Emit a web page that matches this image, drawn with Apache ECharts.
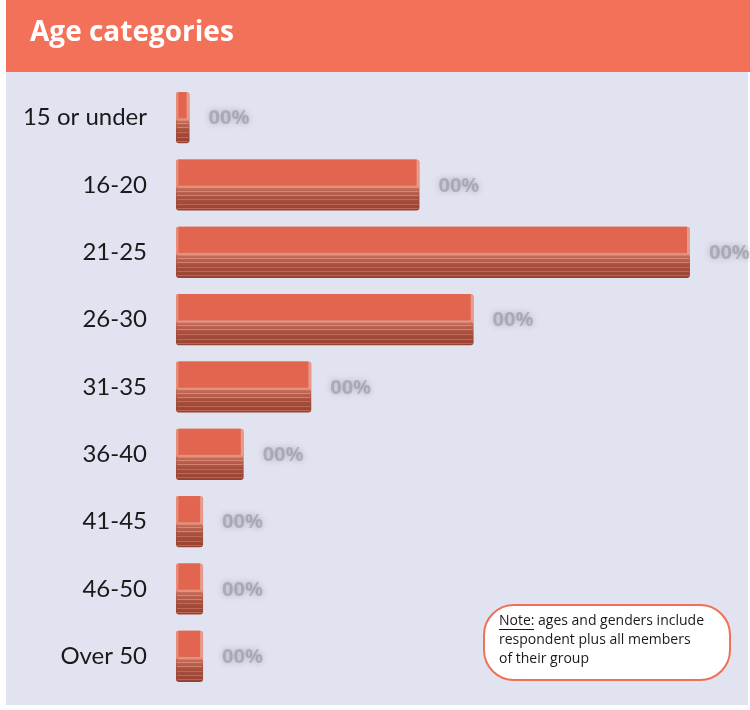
<!DOCTYPE html>
<html>
<head>
<meta charset="utf-8">
<script src="https://cdn.jsdelivr.net/npm/echarts@6/dist/echarts.min.js"></script>
<style>
html,body{margin:0;padding:0;background:#ffffff;}
#chart{width:750px;height:710px;}
</style>
</head>
<body>
<div id="chart"></div>
<script>
const titleText = 'Age categories';
const categories = ['15 or under', '16-20', '21-25', '26-30', '31-35', '36-40', '41-45', '46-50', 'Over 50'];
const percentValues = [1, 18, 38, 22, 10, 5, 2, 2, 2];
const valueLabels = ['00%', '00%', '00%', '00%', '00%', '00%', '00%', '00%', '00%'];
const noteLines = ['ages and genders include', 'respondent plus all members', 'of their group'];

const chart = echarts.init(document.getElementById('chart'), null, {renderer: 'canvas'});

function renderBar(params, api) {
  const idx = api.value(1);
  const val = api.value(0);
  const start = api.coord([0, idx]);
  const end = api.coord([val, idx]);
  const band = api.size([0, 1])[1];
  const h = band * 0.76;
  const x0 = start[0];
  const w = Math.max(end[0] - start[0], 6);
  const y0 = start[1] - h / 2;
  const faceH = h * 0.51;
  const children = [];
  children.push({
    type: 'rect',
    shape: {x: x0, y: y0, width: w, height: h, r: 3},
    style: {
      fill: new echarts.graphic.LinearGradient(0, 0, 0, 1, [
        {offset: 0, color: '#E8846F'},
        {offset: 0.5, color: '#D87866'},
        {offset: 0.58, color: '#C26A58'},
        {offset: 0.75, color: '#A94F3E'},
        {offset: 1, color: '#964231'}
      ])
    }
  });
  const stripes = [0.61, 0.69, 0.78, 0.87, 0.95];
  stripes.forEach(function (f, i) {
    const yy = Math.round(y0 + h * f) + 0.5;
    children.push({
      type: 'line',
      shape: {x1: x0 + 1, y1: yy, x2: x0 + w - 1, y2: yy},
      style: {stroke: i < 2 ? 'rgba(240,165,148,0.55)' : 'rgba(215,130,112,0.55)', lineWidth: 1}
    });
  });
  children.push({
    type: 'rect',
    shape: {x: x0 + 2, y: y0 + faceH, width: w - 4, height: h * 0.05},
    style: {fill: 'rgba(232,150,132,0.85)'}
  });
  children.push({
    type: 'rect',
    shape: {x: x0, y: y0, width: 2.5, height: faceH + 2, r: [2, 0, 0, 0]},
    style: {fill: '#E98B79'}
  });
  children.push({
    type: 'polygon',
    shape: {points: [[x0 + w - 3, y0], [x0 + w, y0 + 2], [x0 + w, y0 + faceH + 4], [x0 + w - 3, y0 + faceH]]},
    style: {fill: '#E99A8A'}
  });
  children.push({
    type: 'rect',
    shape: {x: x0 + 2.5, y: y0, width: Math.max(w - 5.5, 1), height: faceH},
    style: {fill: '#E2664F'}
  });
  children.push({
    type: 'text',
    style: {
      text: valueLabels[params.dataIndex],
      x: x0 + w + 19,
      y: start[1] + 1,
      verticalAlign: 'middle',
      align: 'left',
      font: 'bold 20px "Open Sans", sans-serif',
      fill: 'rgba(125,125,140,0.42)',
      textShadowColor: 'rgba(100,100,115,1)',
      textShadowBlur: 6
    }
  });
  return {type: 'group', children: children};
}

const barData = percentValues.map(function (v, i) { return [v, i]; });

const option = {
  animation: false,
  backgroundColor: '#ffffff',
  graphic: [
    {type: 'rect', z: -10, shape: {x: 6, y: 0, width: 742, height: 705}, style: {fill: '#E2E3F0'}},
    {type: 'rect', z: -5, shape: {x: 6, y: 0, width: 744, height: 72}, style: {fill: '#F37158'}},
    {type: 'text', z: 5, style: {text: titleText, x: 30, y: 33, verticalAlign: 'middle', font: 'bold 28px "Open Sans", sans-serif', fill: '#ffffff'}},
    {type: 'rect', z: 5, shape: {x: 484, y: 605, width: 246, height: 75, r: 30}, style: {fill: '#ffffff', stroke: '#F07058', lineWidth: 2}},
    {type: 'text', z: 6, style: {text: 'Note:', x: 499, y: 621, verticalAlign: 'middle', font: '14px "Open Sans", sans-serif', fill: '#1a1a1a'}},
    {type: 'line', z: 6, shape: {x1: 499, y1: 629.5, x2: 534, y2: 629.5}, style: {stroke: '#1a1a1a', lineWidth: 1}},
    {type: 'text', z: 6, style: {text: noteLines[0], x: 538, y: 621, verticalAlign: 'middle', font: '14px "Open Sans", sans-serif', fill: '#1a1a1a'}},
    {type: 'text', z: 6, style: {text: noteLines[1], x: 499, y: 640, verticalAlign: 'middle', font: '14px "Open Sans", sans-serif', fill: '#1a1a1a'}},
    {type: 'text', z: 6, style: {text: noteLines[2], x: 499, y: 659, verticalAlign: 'middle', font: '14px "Open Sans", sans-serif', fill: '#1a1a1a'}}
  ],
  grid: {left: 176, top: 84, width: 541, height: 606, containLabel: false},
  xAxis: {type: 'value', min: 0, max: 40, show: false},
  yAxis: {
    type: 'category',
    data: categories,
    inverse: true,
    axisLine: {show: false},
    axisTick: {show: false},
    splitLine: {show: false},
    axisLabel: {
      color: '#1a1a1a',
      fontFamily: 'Lato, sans-serif',
      fontSize: 24,
      margin: 29,
      padding: [0, 0, 8, 0]
    }
  },
  series: [{
    type: 'custom',
    renderItem: renderBar,
    encode: {x: 0, y: 1},
    data: barData,
    clip: false
  }]
};
chart.setOption(option);
</script>
</body>
</html>
